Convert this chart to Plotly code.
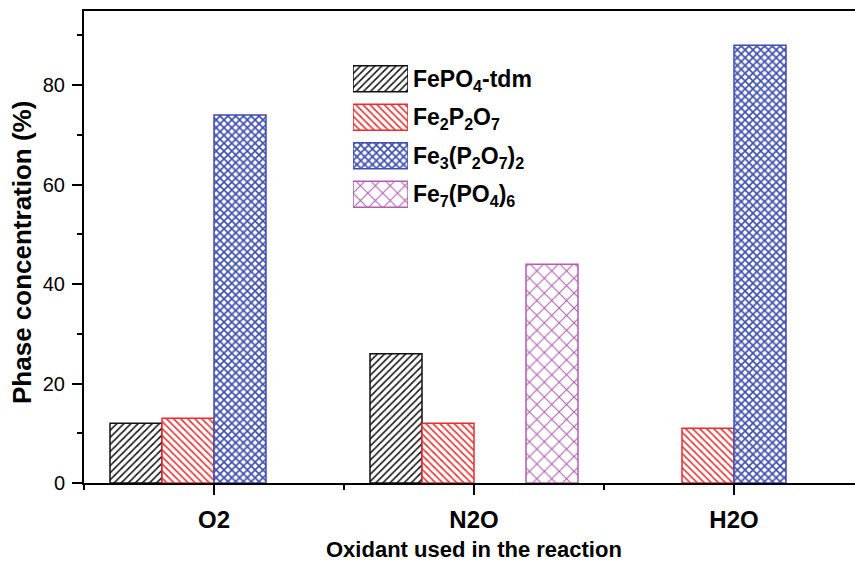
import plotly.graph_objects as go

# ---- data ----
oxidants = ["O2", "N2O", "H2O"]
positions = [1, 2, 3]
series_names = [
    "FePO<sub>4</sub>-tdm",
    "Fe<sub>2</sub>P<sub>2</sub>O<sub>7</sub>",
    "Fe<sub>3</sub>(P<sub>2</sub>O<sub>7</sub>)<sub>2</sub>",
    "Fe<sub>7</sub>(PO<sub>4</sub>)<sub>6</sub>",
]
fepo4_tdm = [12, 26, None]
fe2p2o7 = [13, 12, 11]
fe3p2o7_2 = [74, None, 88]
fe7po4_6 = [None, 44, None]
y_ticks = [0, 20, 40, 60, 80]
x_title = "Oxidant used in the reaction"
y_title = "Phase concentration (%)"

# ---- styles ----
colors = ["#111111", "#F02A2A", "#3F4EB0", "#B25CB2"]
shapes = ["/", "\\", "x", "x"]
sizes = [5, 5, 5.5, 10.5]
solid = [0.3, 0.3, 0.5, 0.19]

W, H = 855, 564
L, R, T, B = 84, 0, 11, 81
pw, ph = W - L - R, H - T - B


def marker_for(i):
    return dict(color="white",
                line=dict(color=colors[i], width=1.5),
                pattern=dict(shape=shapes[i], fgcolor=colors[i], bgcolor="white",
                             fgopacity=1, size=sizes[i], solidity=solid[i],
                             fillmode="overlay"))


fig = go.Figure()
values = [fepo4_tdm, fe2p2o7, fe3p2o7_2, fe7po4_6]
for i, (name, vals) in enumerate(zip(series_names, values)):
    fig.add_trace(go.Bar(x=positions, y=vals, name=name, showlegend=False,
                         marker=marker_for(i)))

# legend swatches drawn as an inset horizontal bar chart
for i, name in enumerate(series_names):
    fig.add_trace(go.Bar(x=[1], y=[name], orientation="h", xaxis="x2", yaxis="y2",
                         width=0.68, showlegend=False, hoverinfo="skip",
                         marker=marker_for(i)))


def px_x(p):
    return (p - L) / pw


def px_y(p):
    return (H - B - p) / ph


fig.update_layout(
    width=W, height=H,
    margin=dict(l=L, r=R, t=T, b=B, autoexpand=False),
    paper_bgcolor="white", plot_bgcolor="white",
    barmode="group", bargap=0.2, bargroupgap=0,
    font=dict(family="Liberation Sans, Arial, sans-serif", color="black"),
    xaxis=dict(
        automargin=False,
        range=[0.5, 0.5 + pw / 260.0],
        tickmode="array", tickvals=positions, ticktext=oxidants,
        tickfont=dict(size=24, weight="bold"),
        ticks="outside", ticklen=10, tickwidth=2, tickcolor="black",
        ticklabelstandoff=4,
        minor=dict(tickvals=[0.5, 1.5, 2.5, 3.5], ticks="outside", ticklen=5,
                   tickwidth=2, tickcolor="black"),
        showline=True, linewidth=2, linecolor="black", mirror=True,
        showgrid=False, zeroline=False,
    ),
    yaxis=dict(
        automargin=False,
        range=[0, 94.9],
        tickmode="array", tickvals=y_ticks,
        tickfont=dict(size=20),
        ticks="outside", ticklen=10, tickwidth=2, tickcolor="black",
        ticklabelstandoff=3,
        minor=dict(dtick=10, tick0=0, ticks="outside", ticklen=5,
                   tickwidth=2, tickcolor="black"),
        showline=True, linewidth=2, linecolor="black",
        showgrid=False, zeroline=False,
    ),
    xaxis2=dict(
        domain=[px_x(353), px_x(408)], range=[0, 1], anchor="y2",
        showgrid=False, zeroline=False, showticklabels=False, showline=False,
        fixedrange=True,
    ),
    yaxis2=dict(
        domain=[px_y(213.5), px_y(59.5)], anchor="x2", side="right",
        autorange="reversed", type="category",
        showgrid=False, zeroline=False, showline=False, ticks="",
        tickfont=dict(size=23, weight="bold"), ticklabelstandoff=4,
        fixedrange=True,
    ),
    annotations=[
        dict(text=x_title, xref="paper", yref="paper",
             x=px_x(474), y=px_y(549), xanchor="center", yanchor="middle",
             showarrow=False, font=dict(size=22, weight="bold")),
        dict(text=y_title, xref="paper", yref="paper", textangle=-90,
             x=px_x(22), y=px_y(253), xanchor="center", yanchor="middle",
             showarrow=False, font=dict(size=26, weight="bold")),
    ],
)

fig.write_html("out.html", config={"displayModeBar": False},
               post_script="document.body.style.margin='0';")
